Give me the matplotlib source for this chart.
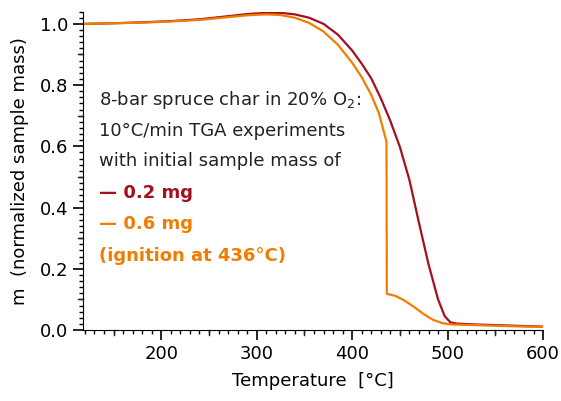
import matplotlib.pyplot as plt
from matplotlib.ticker import MultipleLocator

# TGA curves
temp_02 = [120, 150, 180, 210, 240, 270, 290, 310, 325, 340, 355, 370, 385, 400,
           410, 420, 430, 440, 450, 460, 470, 480, 490, 497, 503, 510, 530, 560, 600]
mass_02 = [1.000, 1.002, 1.005, 1.009, 1.015, 1.025, 1.032, 1.036, 1.036, 1.031,
           1.020, 1.000, 0.965, 0.913, 0.870, 0.822, 0.757, 0.683, 0.598, 0.490,
           0.350, 0.215, 0.100, 0.045, 0.025, 0.021, 0.018, 0.015, 0.011]

temp_06 = [120, 150, 180, 210, 240, 270, 290, 310, 325, 340, 355, 370, 385, 400,
           410, 420, 428, 436, 436.3, 445, 455, 465, 475, 485, 495, 505, 530, 560, 600]
mass_06 = [1.000, 1.002, 1.004, 1.008, 1.013, 1.022, 1.028, 1.031, 1.029, 1.020,
           1.003, 0.975, 0.932, 0.873, 0.826, 0.768, 0.708, 0.615, 0.118, 0.112,
           0.096, 0.075, 0.052, 0.033, 0.022, 0.018, 0.016, 0.013, 0.010]

red = '#a50f1e'
orange = '#f07d00'
fs = 13

fig = plt.figure(figsize=(5.61, 4.01), dpi=100)
ax = fig.add_axes([0.148, 0.177, 0.82, 0.794])

ax.plot(temp_02, mass_02, color=red, lw=1.6)
ax.plot(temp_06, mass_06, color=orange, lw=1.6)

ax.set_xlim(118, 600)
ax.set_ylim(0, 1.04)
ax.spines['top'].set_visible(False)
ax.spines['right'].set_visible(False)

ax.xaxis.set_major_locator(MultipleLocator(100))
ax.xaxis.set_minor_locator(MultipleLocator(10))
ax.yaxis.set_major_locator(MultipleLocator(0.2))
ax.yaxis.set_minor_locator(MultipleLocator(0.02))
ax.tick_params(which='major', direction='out', length=7, width=1.2, labelsize=fs)
ax.tick_params(which='minor', direction='out', length=3, width=1)
ax.set_xticks([200, 300, 400, 500, 600])
ax.set_yticks([0.0, 0.2, 0.4, 0.6, 0.8, 1.0])
ax.set_yticklabels(['0.0', '0.2', '0.4', '0.6', '0.8', '1.0'])

# medium ticks at 50 / 0.1
for xv in [150, 250, 350, 450, 550]:
    ax.plot([xv, xv], [0, -0.016], color='#222222', lw=1, clip_on=False)
for yv in [0.1, 0.3, 0.5, 0.7, 0.9]:
    ax.plot([118, 113], [yv, yv], color='#222222', lw=1, clip_on=False)

ax.set_xlabel('Temperature  [°C]', fontsize=fs, labelpad=7)
ax.set_ylabel('m  (normalized sample mass)', fontsize=fs, labelpad=8)

tx = 0.035
ax.text(tx, 0.722, r'8-bar spruce char in 20% O$_2$:', transform=ax.transAxes,
        fontsize=fs, color='#222222', va='center')
ax.text(tx, 0.625, '10°C/min TGA experiments', transform=ax.transAxes,
        fontsize=fs, color='#222222', va='center')
ax.text(tx, 0.531, 'with initial sample mass of', transform=ax.transAxes,
        fontsize=fs, color='#222222', va='center')
ax.text(tx, 0.430, '— 0.2 mg', transform=ax.transAxes, fontsize=fs,
        color=red, fontweight='bold', va='center')
ax.text(tx, 0.333, '— 0.6 mg', transform=ax.transAxes, fontsize=fs,
        color=orange, fontweight='bold', va='center')
ax.text(tx, 0.232, '(ignition at 436°C)', transform=ax.transAxes, fontsize=fs,
        color=orange, fontweight='bold', va='center')

fig.savefig('out.png', dpi=100)
